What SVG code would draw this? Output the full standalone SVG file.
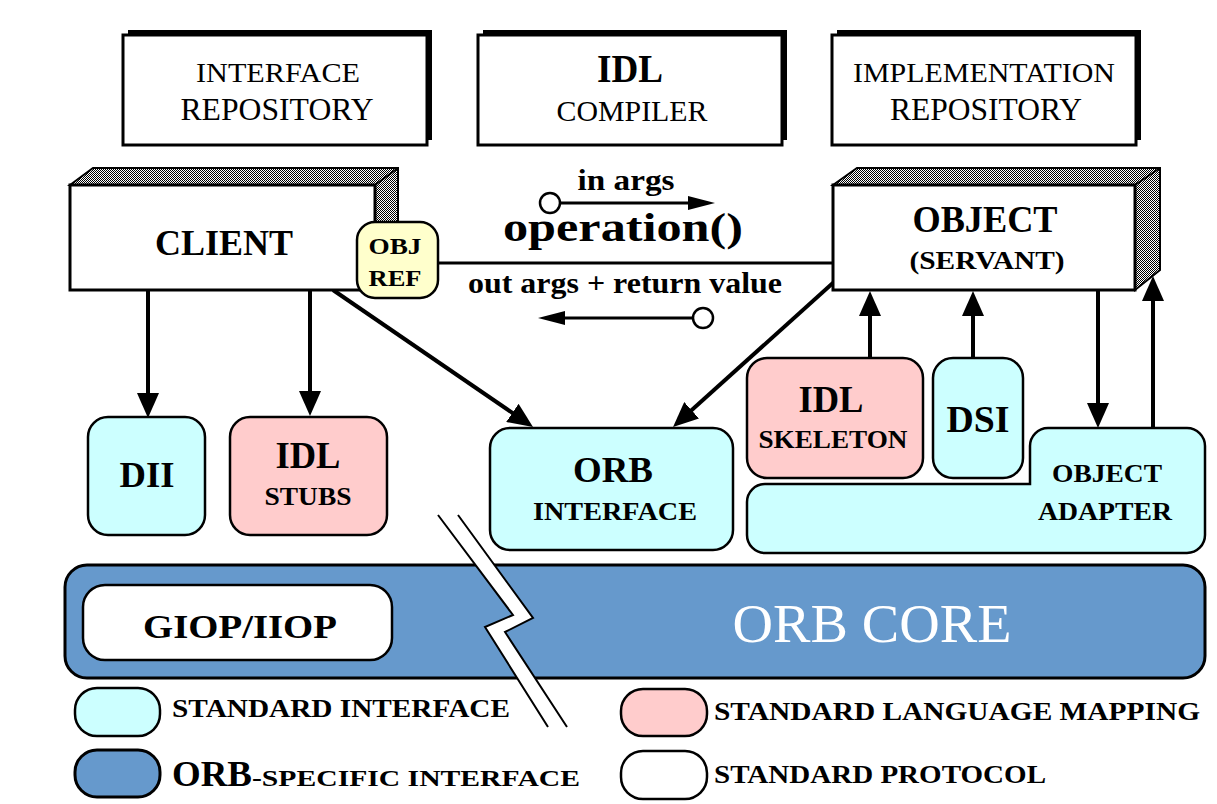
<svg xmlns="http://www.w3.org/2000/svg" width="1217" height="804" viewBox="0 0 1217 804">
<defs>
  <pattern id="dither" width="2" height="2" patternUnits="userSpaceOnUse">
    <rect width="2" height="2" fill="#fff"/>
    <rect width="1" height="1" fill="#000"/>
    <rect x="1" y="1" width="1" height="1" fill="#000"/>
  </pattern>
  <marker id="ah" viewBox="0 0 25 22" refX="5" refY="11" markerWidth="25" markerHeight="22" markerUnits="userSpaceOnUse" orient="auto">
    <path d="M0,0 L25,11 L0,22 Z" fill="#000"/>
  </marker>
  <marker id="ahs" viewBox="0 0 27 14" refX="5" refY="7" markerWidth="27" markerHeight="14" markerUnits="userSpaceOnUse" orient="auto">
    <path d="M0,0 L27,7 L0,14 Z" fill="#000"/>
  </marker>
</defs>
<style>
  .t { font-family: "Liberation Serif", "Times New Roman", serif; fill: #000; }
  .b { font-weight: bold; }
  .w { fill: #fff; }
  .box { fill: #fff; stroke: #000; stroke-width: 3; }
  .shadow { fill: #000; }
  .cyan { fill: #ccffff; stroke: #000; stroke-width: 2.5; }
  .pink { fill: #ffcccc; stroke: #000; stroke-width: 2.5; }
  .yellow { fill: #ffffcc; stroke: #000; stroke-width: 2.5; }
  .blue { fill: #6699cc; stroke: #000; stroke-width: 3; }
  .white { fill: #fff; stroke: #000; stroke-width: 2.5; }
  .hatch { fill: url(#dither); stroke: #000; stroke-width: 2; }
  .conn { stroke: #000; stroke-width: 4; fill: none; }
  .thin { stroke: #000; stroke-width: 3; fill: none; }
</style>
<rect width="1217" height="804" fill="#fff"/>

<g id="interface-repository">
  <rect class="shadow" x="128" y="30" width="304" height="110"/>
  <rect class="box" x="123" y="35" width="304" height="110"/>
  <text class="t" x="278" y="82" font-size="28" text-anchor="middle" textLength="164" lengthAdjust="spacingAndGlyphs">INTERFACE</text>
  <text class="t" x="277" y="120" font-size="31" text-anchor="middle" textLength="193" lengthAdjust="spacingAndGlyphs">REPOSITORY</text>
</g>
<g id="idl-compiler">
  <rect class="shadow" x="483" y="30" width="304" height="110"/>
  <rect class="box" x="478" y="35" width="304" height="110"/>
  <text class="t b" x="630" y="82" font-size="40" text-anchor="middle" textLength="66" lengthAdjust="spacingAndGlyphs">IDL</text>
  <text class="t" x="632" y="121" font-size="29" text-anchor="middle" textLength="151" lengthAdjust="spacingAndGlyphs">COMPILER</text>
</g>
<g id="implementation-repository">
  <rect class="shadow" x="837" y="30" width="304" height="110"/>
  <rect class="box" x="832" y="35" width="304" height="110"/>
  <text class="t" x="984" y="82" font-size="28" text-anchor="middle" textLength="262" lengthAdjust="spacingAndGlyphs">IMPLEMENTATION</text>
  <text class="t" x="986" y="120" font-size="31" text-anchor="middle" textLength="192" lengthAdjust="spacingAndGlyphs">REPOSITORY</text>
</g>

<g id="connectors">
  <line class="conn" x1="148" y1="290" x2="148" y2="398" marker-end="url(#ah)"/>
  <line class="conn" x1="310" y1="290" x2="310" y2="396" marker-end="url(#ah)"/>
  <line class="conn" x1="333" y1="290" x2="516.5" y2="415.7" marker-end="url(#ah)"/>
  <line class="conn" x1="834" y1="282" x2="687.9" y2="413.6" marker-end="url(#ah)"/>
  <line class="conn" x1="870" y1="358" x2="870" y2="311" marker-end="url(#ah)"/>
  <line class="conn" x1="973" y1="358" x2="973" y2="311" marker-end="url(#ah)"/>
  <line class="conn" x1="1098" y1="290" x2="1098" y2="408" marker-end="url(#ah)"/>
  <line class="conn" x1="1153" y1="428" x2="1153" y2="296" marker-end="url(#ah)"/>
  <line class="thin" x1="438" y1="263" x2="834" y2="263"/>
  <line class="thin" x1="560" y1="203" x2="693" y2="203" marker-end="url(#ahs)"/>
  <circle cx="550" cy="203" r="10" fill="#fff" stroke="#000" stroke-width="2.5"/>
  <line class="thin" x1="693" y1="318" x2="560" y2="318" marker-end="url(#ahs)"/>
  <circle cx="703" cy="318" r="10" fill="#fff" stroke="#000" stroke-width="2.5"/>
</g>

<g id="operation-labels">
  <text class="t b" x="626" y="190" font-size="29" text-anchor="middle" textLength="97" lengthAdjust="spacingAndGlyphs">in args</text>
  <text class="t b" x="623" y="241" font-size="40" text-anchor="middle" textLength="240" lengthAdjust="spacingAndGlyphs">operation()</text>
  <text class="t b" x="625" y="293" font-size="29" text-anchor="middle" textLength="314" lengthAdjust="spacingAndGlyphs">out args + return value</text>
</g>

<g id="client">
  <path class="hatch" d="M70,185 L93,168 L398,168 L398,273 L375,290 L375,185 Z"/>
  <line x1="375" y1="185" x2="398" y2="168" stroke="#000" stroke-width="2"/>
  <rect class="box" x="70" y="185" width="305" height="105"/>
  <text class="t b" x="224" y="255" font-size="35" text-anchor="middle" textLength="138" lengthAdjust="spacingAndGlyphs">CLIENT</text>
</g>

<g id="obj-ref">
  <rect class="yellow" x="357" y="222" width="81" height="76" rx="18"/>
  <text class="t b" x="395" y="254" font-size="24" text-anchor="middle" textLength="53" lengthAdjust="spacingAndGlyphs">OBJ</text>
  <text class="t b" x="395" y="286" font-size="24" text-anchor="middle" textLength="53" lengthAdjust="spacingAndGlyphs">REF</text>
</g>

<g id="object">
  <path class="hatch" d="M833,185 L857,168 L1160,168 L1160,270 L1135,290 L1135,185 Z"/>
  <line x1="1135" y1="185" x2="1160" y2="168" stroke="#000" stroke-width="2"/>
  <rect class="box" x="833" y="185" width="302" height="105"/>
  <text class="t b" x="985" y="232" font-size="37" text-anchor="middle" textLength="145" lengthAdjust="spacingAndGlyphs">OBJECT</text>
  <text class="t b" x="987" y="269" font-size="26" text-anchor="middle" textLength="155" lengthAdjust="spacingAndGlyphs">(SERVANT)</text>
</g>

<g id="dii">
  <rect class="cyan" x="88" y="417" width="117" height="118" rx="20"/>
  <text class="t b" x="147" y="487" font-size="36" text-anchor="middle" textLength="55" lengthAdjust="spacingAndGlyphs">DII</text>
</g>

<g id="idl-stubs">
  <rect class="pink" x="230" y="417" width="157" height="118" rx="20"/>
  <text class="t b" x="308" y="468" font-size="37" text-anchor="middle" textLength="65" lengthAdjust="spacingAndGlyphs">IDL</text>
  <text class="t b" x="308" y="505" font-size="25" text-anchor="middle" textLength="87" lengthAdjust="spacingAndGlyphs">STUBS</text>
</g>

<g id="orb-interface">
  <rect class="cyan" x="490" y="428" width="243" height="122" rx="20"/>
  <text class="t b" x="613" y="482" font-size="35" text-anchor="middle" textLength="80" lengthAdjust="spacingAndGlyphs">ORB</text>
  <text class="t b" x="615" y="520" font-size="26" text-anchor="middle" textLength="164" lengthAdjust="spacingAndGlyphs">INTERFACE</text>
</g>

<g id="idl-skeleton">
  <rect class="pink" x="747" y="358" width="176" height="120" rx="20"/>
  <text class="t b" x="831" y="412" font-size="37" text-anchor="middle" textLength="65" lengthAdjust="spacingAndGlyphs">IDL</text>
  <text class="t b" x="833" y="448" font-size="25" text-anchor="middle" textLength="149" lengthAdjust="spacingAndGlyphs">SKELETON</text>
</g>

<g id="dsi">
  <rect class="cyan" x="933" y="358" width="90" height="120" rx="20"/>
  <text class="t b" x="978" y="432" font-size="37" text-anchor="middle" textLength="63" lengthAdjust="spacingAndGlyphs">DSI</text>
</g>

<g id="object-adapter">
  <path class="cyan" d="M765,484 L1030,484 L1030,446 A18,18 0 0 1 1048,428 L1187,428 A18,18 0 0 1 1205,446 L1205,535 A18,18 0 0 1 1187,553 L765,553 A18,18 0 0 1 747,535 L747,502 A18,18 0 0 1 765,484 Z"/>
  <text class="t b" x="1107" y="482" font-size="25" text-anchor="middle" textLength="110" lengthAdjust="spacingAndGlyphs">OBJECT</text>
  <text class="t b" x="1105" y="520" font-size="25" text-anchor="middle" textLength="134" lengthAdjust="spacingAndGlyphs">ADAPTER</text>
</g>

<g id="orb-core">
  <rect class="blue" x="65" y="565" width="1140" height="113" rx="22"/>
  <text class="t w" x="872" y="642" font-size="54" text-anchor="middle" textLength="279" lengthAdjust="spacingAndGlyphs">ORB CORE</text>
</g>

<g id="giop-iiop">
  <rect class="white" x="83" y="585" width="309" height="75" rx="22" stroke-width="3"/>
  <text class="t b" x="240" y="638" font-size="34" text-anchor="middle" textLength="194" lengthAdjust="spacingAndGlyphs">GIOP/IIOP</text>
</g>

<g id="break">
  <polygon points="438,515 513,615 485,627 548,727 567,727 505,632 533,618 458,515" fill="#fff"/>
  <polyline points="438,515 513,615 485,627 548,727" fill="none" stroke="#000" stroke-width="2"/>
  <polyline points="458,515 533,618 505,632 567,727" fill="none" stroke="#000" stroke-width="2"/>
</g>

<g id="legend">
  <rect class="cyan" x="75" y="688" width="85" height="48" rx="22"/>
  <text class="t b" x="172" y="717" font-size="26" textLength="338" lengthAdjust="spacingAndGlyphs">STANDARD INTERFACE</text>
  <rect class="blue" x="75" y="750" width="85" height="47" rx="22" stroke-width="2.5"/>
  <text class="t b" x="172" y="786" font-size="35" textLength="80" lengthAdjust="spacingAndGlyphs">ORB</text>
  <text class="t b" x="252" y="786" font-size="24" textLength="328" lengthAdjust="spacingAndGlyphs">-SPECIFIC INTERFACE</text>
  <rect class="pink" x="621" y="689" width="86" height="47" rx="22"/>
  <text class="t b" x="714" y="720" font-size="26" textLength="486" lengthAdjust="spacingAndGlyphs">STANDARD LANGUAGE MAPPING</text>
  <rect class="white" x="621" y="751" width="86" height="48" rx="22"/>
  <text class="t b" x="714" y="783" font-size="26" textLength="332" lengthAdjust="spacingAndGlyphs">STANDARD PROTOCOL</text>
</g>
</svg>
